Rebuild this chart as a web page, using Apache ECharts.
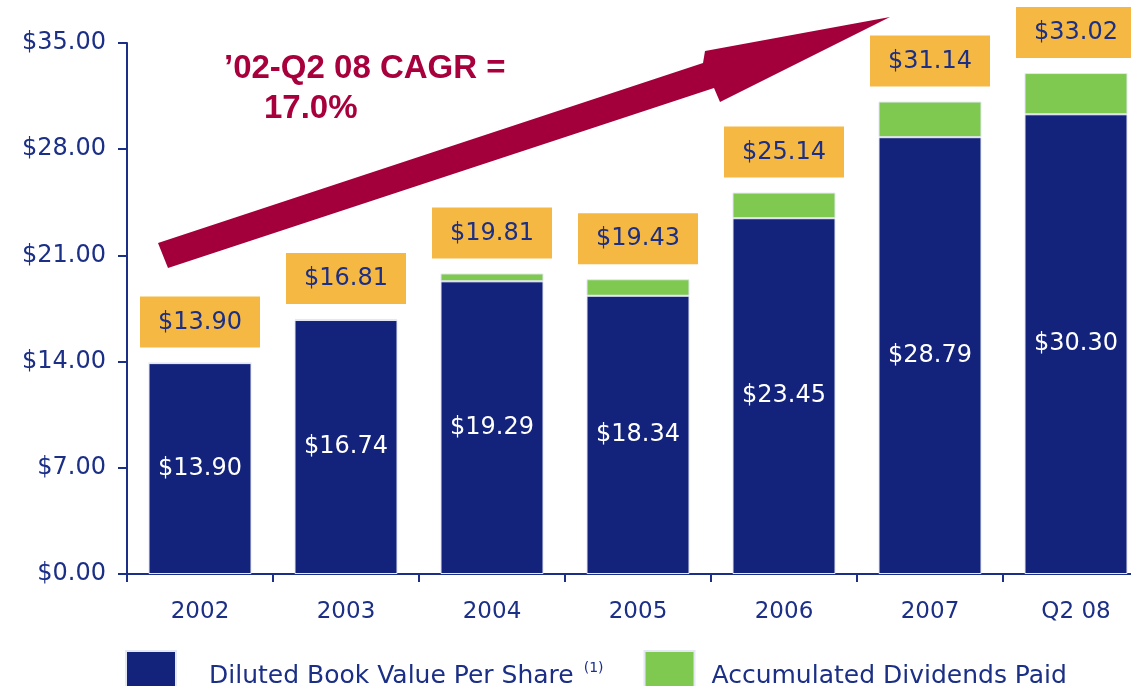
<!DOCTYPE html>
<html>
<head>
<meta charset="utf-8">
<script src="https://cdn.jsdelivr.net/npm/echarts@6/dist/echarts.min.js"></script>
<style>
  html, body { margin: 0; padding: 0; background: #fff; }
  #main { width: 1131px; height: 686px; }
</style>
</head>
<body>
<div id="main"></div>
<script>
  // 데이터
  var categories = ['2002', '2003', '2004', '2005', '2006', '2007', 'Q2 08'];
  var bookValue = [13.90, 16.74, 19.29, 18.34, 23.45, 28.79, 30.30];
  var dividends = [0, 0.07, 0.52, 1.09, 1.69, 2.35, 2.72];
  var totals = [13.90, 16.81, 19.81, 19.43, 25.14, 31.14, 33.02];
  var yTicks = [0, 7, 14, 21, 28, 35];

  var navy = '#1b2f86';
  var font = 'DejaVu Sans';

  var dom = document.getElementById('main');
  var myChart = echarts.init(dom, null, { renderer: 'canvas' });

  var option = {
    animation: false,
    textStyle: { fontFamily: font },
    grid: {
      top: 43, // 상단 여백
      bottom: 112, // 하단 여백
      left: 127, // 좌측 여백
      width: 1022, // 오른쪽은 화면 밖으로 잘림
      outerBoundsMode: 'none'
    },
    legend: {
      left: 125,
      top: 650,
      padding: 0,
      itemWidth: 50,
      itemHeight: 50,
      itemGap: 40,
      icon: 'rect',
      textStyle: {
        fontFamily: font,
        fontSize: 25,
        color: navy,
        padding: [0, 0, 0, 28],
        rich: {
          sup: { fontSize: 14, color: navy, verticalAlign: 'top', padding: [0, 0, 16, 10] }
        }
      },
      formatter: function (name) {
        if (name === 'Diluted Book Value Per Share') {
          return name + '{sup|(1)}';
        }
        return name;
      },
      data: [
        { name: 'Diluted Book Value Per Share' },
        { name: 'Accumulated Dividends Paid', textStyle: { padding: [0, 0, 0, 12], fontSize: 25, color: navy, fontFamily: font } }
      ]
    },
    xAxis: {
      type: 'category',
      data: categories,
      axisLine: { lineStyle: { color: navy, width: 2 } },
      axisTick: { show: true, length: 8, lineStyle: { color: navy, width: 2 } },
      axisLabel: { color: navy, fontSize: 23, margin: 27, fontFamily: font }
    },
    yAxis: {
      type: 'value',
      min: 0,
      max: 35,
      interval: 7,
      splitLine: { show: false },
      axisLine: { show: true, lineStyle: { color: navy, width: 2 } },
      axisTick: { show: true, length: 9, lineStyle: { color: navy, width: 2 } },
      axisLabel: {
        color: navy,
        fontSize: 24,
        margin: 21,
        fontFamily: font,
        formatter: function (v) {
          return yTicks.indexOf(v) >= 0 ? '$' + v.toFixed(2) : '';
        }
      }
    },
    series: [
      {
        name: 'Diluted Book Value Per Share',
        type: 'bar',
        stack: 'total',
        barWidth: 103,
        data: bookValue,
        itemStyle: { color: '#13237b', borderColor: '#e4e7f4', borderWidth: 1 },
        label: {
          show: true,
          position: 'inside',
          color: '#ffffff',
          fontSize: 24,
          fontFamily: font,
          formatter: function (p) { return '$' + p.value.toFixed(2); }
        }
      },
      {
        name: 'Accumulated Dividends Paid',
        type: 'bar',
        stack: 'total',
        barWidth: 103,
        data: dividends,
        itemStyle: { color: '#7fc951', borderColor: '#e4e7f4', borderWidth: 1 },
        label: {
          show: true,
          position: 'top',
          distance: 15,
          color: navy,
          fontSize: 24,
          fontFamily: font,
          backgroundColor: '#f5b843',
          padding: [14, 18, 13, 18],
          formatter: function (p) { return '$' + totals[p.dataIndex].toFixed(2); }
        }
      }
    ],
    graphic: [
      {
        type: 'polygon',
        z: 10,
        shape: {
          points: [[158, 243], [703, 63], [705, 51], [890, 17], [720, 102], [714, 88], [168, 268]]
        },
        style: { fill: '#a3003b' }
      },
      {
        type: 'text',
        left: 224,
        top: 52,
        style: { text: '\u201902-Q2 08 CAGR =', fill: '#a8003c', font: 'bold 33px "Liberation Sans", Arial, sans-serif' }
      },
      {
        type: 'text',
        left: 264,
        top: 92,
        style: { text: '17.0%', fill: '#a8003c', font: 'bold 33px "Liberation Sans", Arial, sans-serif' }
      }
    ]
  };

  if (option && typeof option === 'object') {
    myChart.setOption(option);
  }
  window.addEventListener('resize', myChart.resize);
</script>
</body>
</html>
